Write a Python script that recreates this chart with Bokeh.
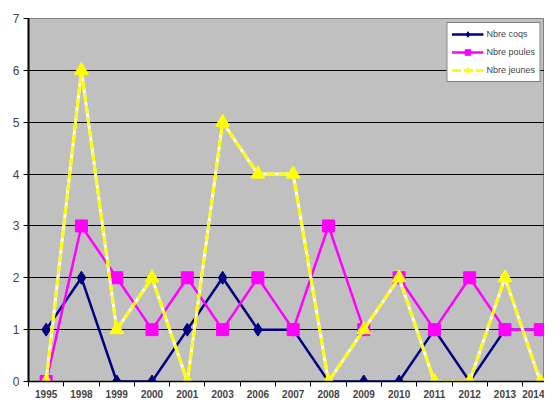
from bokeh.plotting import figure
from bokeh.models import FixedTicker, Range1d, Legend, LegendItem, ColumnDataSource
from bokeh.embed import file_html
from bokeh.resources import INLINE

years = ["1995", "1998", "1999", "2000", "2001", "2003", "2006", "2007",
         "2008", "2009", "2010", "2011", "2012", "2013", "2014"]
coqs = [1, 2, 0, 0, 1, 2, 1, 1, 0, 0, 0, 1, 0, 1, 1]
poules = [0, 3, 2, 1, 2, 1, 2, 1, 3, 1, 2, 1, 2, 1, 1]
jeunes = [0, 6, 1, 2, 0, 5, 4, 4, 0, 1, 2, 0, 0, 2, 0]
series_names = ["Nbre coqs", "Nbre poules", "Nbre jeunes"]
y_ticks = [0, 1, 2, 3, 4, 5, 6, 7]

idx = list(range(len(years)))
src = ColumnDataSource(dict(x=idx, coqs=coqs, poules=poules, jeunes=jeunes))

p = figure(width=544, height=400, output_backend="svg", toolbar_location=None,
           x_range=Range1d(-0.5, len(years) - 1 + 0.12), y_range=Range1d(0, 7),
           min_border_left=28, min_border_right=0, min_border_top=18, min_border_bottom=0)
p.background_fill_color = "#C0C0C0"
p.border_fill_color = "white"
p.outline_line_color = "#808080"
p.outline_line_width = 1

# axes
p.xaxis.ticker = FixedTicker(ticks=idx, minor_ticks=[i - 0.5 for i in idx] + [len(years) - 0.5])
p.xaxis.major_label_overrides = {i: y for i, y in enumerate(years)}
p.xaxis.major_tick_line_color = None
p.xaxis.minor_tick_line_color = "black"
p.xaxis.minor_tick_out = 5
p.xaxis.minor_tick_in = 0
p.xaxis.axis_line_color = "black"
p.xaxis.axis_line_width = 1.5
p.xaxis.major_label_text_font = "Liberation Sans"
p.xaxis.major_label_text_font_style = "bold"
p.xaxis.major_label_text_font_size = "10px"
p.xaxis.major_label_standoff = 2

p.yaxis.ticker = FixedTicker(ticks=y_ticks)
p.yaxis.minor_tick_line_color = None
p.yaxis.major_tick_out = 5
p.yaxis.major_tick_in = 0
p.yaxis.major_tick_line_color = "black"
p.yaxis.axis_line_color = "black"
p.yaxis.axis_line_width = 2
p.yaxis.major_label_text_font = "Liberation Sans"
p.yaxis.major_label_text_font_size = "12px"
p.yaxis.major_label_standoff = 4

p.xgrid.grid_line_color = None
p.ygrid.grid_line_color = "black"
p.ygrid.grid_line_width = 1

# series
r1l = p.line("x", "coqs", source=src, line_color="#000080", line_width=2.5)
r1m = p.scatter("x", "coqs", source=src, marker="diamond", size=13, fill_color="#000080", line_color="#000080")

r2l = p.line("x", "poules", source=src, line_color="#FF00FF", line_width=2.5)
r2m = p.scatter("x", "poules", source=src, marker="square", size=12, fill_color="#FF00FF", line_color="#FF00FF")

r3w = p.line("x", "jeunes", source=src, line_color="white", line_width=3)
r3l = p.line("x", "jeunes", source=src, line_color="#FFFF00", line_width=3, line_dash="9 3")
r3m = p.scatter("x", "jeunes", source=src, marker="triangle", size=14, fill_color="#FFFF00", line_color="#FFFF00")

legend = Legend(items=[
    LegendItem(label=series_names[0], renderers=[r1l, r1m]),
    LegendItem(label=series_names[1], renderers=[r2l, r2m]),
    LegendItem(label=series_names[2], renderers=[r3w, r3l, r3m]),
], location="top_right")
legend.background_fill_color = "white"
legend.background_fill_alpha = 1
legend.border_line_color = "black"
legend.border_line_width = 1
legend.label_text_font = "Liberation Sans"
legend.label_text_font_size = "9px"
legend.glyph_width = 32
legend.glyph_height = 14
legend.label_standoff = 3
legend.spacing = 4
legend.padding = 4
legend.margin = 4
p.add_layout(legend, "center")

open("out.html", "w").write(file_html(p, INLINE))
